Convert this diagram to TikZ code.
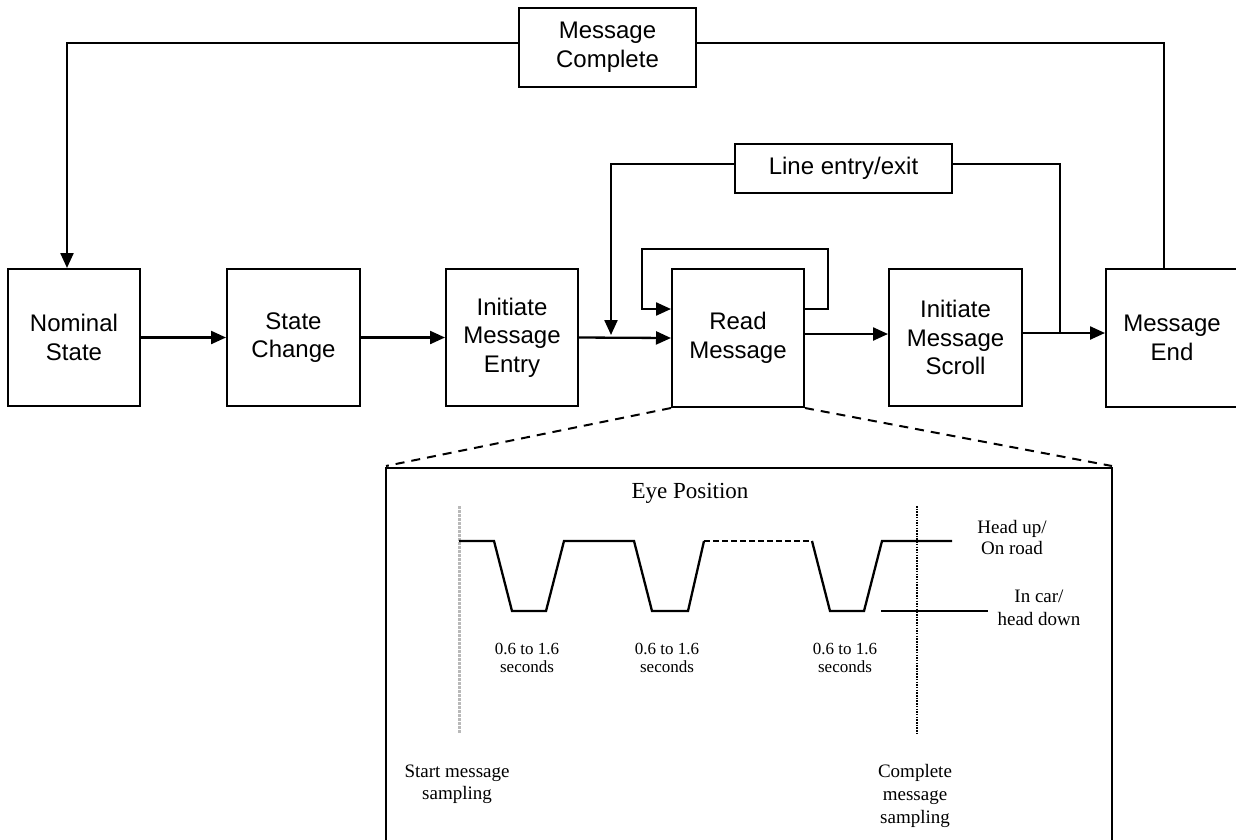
\documentclass[tikz,border=0pt]{standalone}
\usepackage{fontspec}
\setmainfont{Liberation Serif}
\newfontfamily\sansf{Liberation Sans}
\usetikzlibrary{arrows.meta}
\begin{document}
\begin{tikzpicture}[x=1pt,y=-1pt,
  box/.style={draw,line width=2pt,minimum width=132pt,minimum height=137pt,inner sep=0pt,align=center,font=\sansf\fontsize{24}{28.5}\selectfont},
  tag/.style={draw,line width=2pt,inner sep=0pt,align=center,font=\sansf\fontsize{24}{29}\selectfont},
  conn/.style={line width=2.3pt},
  arr/.style={conn,-{Triangle[length=15pt,width=13pt]}},
  wave/.style={line width=2.3pt,line join=miter},
  lbl/.style={align=center,inner sep=0pt},
  durlbl/.style={lbl,font=\fontsize{17}{18}\selectfont},
]
\useasboundingbox (0,0) rectangle (1236,839);
\clip (0,0) rectangle (1236,839);

% main boxes
\node[box] (N) at (74,337.5) {Nominal\\State};
\node[box,minimum width=133pt] (S) at (293.5,337.5) {State\\Change};
\node[box] (E) at (512,337.5) {Initiate\\Message\\Entry};
\node[box,minimum height=138pt] (R) at (738,338) {Read\\Message};
\node[box,minimum width=133pt] (I) at (955.5,337.5) {Initiate\\Message\\Scroll};
\node[box,minimum height=138pt] (M) at (1172,338) {Message\\End};
\node[tag,minimum width=177pt,minimum height=79pt] (C) at (607.5,47.5) {Message\\Complete};
\node[tag,minimum width=217pt,minimum height=49pt] (L) at (843.5,168.5) {Line entry/exit};

% bend coordinates
\coordinate (tl) at (67,43);
\coordinate (tr) at (1164,43);
\coordinate (ll) at (611,164);
\coordinate (lr) at (1060,164);
\coordinate (la) at (611,335);
\coordinate (lb) at (1060,333);

% main flow
\draw[arr] (N) -- (S);
\draw[arr] (S) -- (E);
\draw[arr] (E.east) -- (R.west);
\draw[arr] ([yshift=4pt]R.east) -- ([yshift=4pt]R.east -| I.west);
\draw[arr] ([yshift=4.5pt]I.east) -- ([yshift=4.5pt]I.east -| M.west);

% feedback loops
\draw[arr] (C.west |- tl) -- (tl) -- (tl |- N.north);
\draw[conn] (C.east |- tr) -- (tr) -- (tr |- M.north);
\draw[arr] (L.west |- ll) -- (ll) -- (la);
\draw[conn] (L.east |- lr) -- (lr) -- (lb);
\draw[arr] ([yshift=29pt]R.east) -- ++(23,0) -- ++(0,-60) -| ([xshift=-29pt,yshift=29pt]R.west) -- ([yshift=29pt]R.west);

% zoom panel
\coordinate (pl) at (386,468);
\coordinate (pr) at (1112,468);
\draw[line width=2pt] (386,860) -- (pl) -- (pr) -- (1112,860);
\draw[line width=2pt,dash pattern=on 9pt off 7pt] (R.south west) -- (386,466);
\draw[line width=2pt,dash pattern=on 9pt off 7pt] (R.south east) -- (1112,466);

% sampling markers
\draw[gray!55,line width=3pt,dash pattern=on 3pt off 1pt] (459,506) -- (459,733);
\draw[line width=1.5pt,dash pattern=on 1.5pt off 1.2pt] (917,506) -- (917,733);

% eye position trace
\draw[wave] (459,541) -- (494,541) -- (512,611) -- (546,611) -- (564,541) -- (634,541) -- (652,611) -- (688,611) -- (704,541);
\draw[line width=1.6pt,dash pattern=on 6pt off 3pt] (704,541) -- (812,541);
\draw[wave] (812,541) -- (830,611) -- (864,611) -- (882,541) -- (952,541);
\draw[wave] (881,611) -- (988,611);

% labels
\node[lbl,font=\fontsize{23}{26}\selectfont,anchor=base] (eye) at (690,498) {Eye Position};
\node[durlbl] (d1) at (527,658) {0.6 to 1.6\\seconds};
\node[durlbl] (d2) at (667,658) {0.6 to 1.6\\seconds};
\node[durlbl] (d3) at (845,658) {0.6 to 1.6\\seconds};
\node[lbl,font=\fontsize{19}{21}\selectfont] (hu) at (1012,537) {Head up/\\On road};
\node[lbl,font=\fontsize{19}{23}\selectfont] (hd) at (1039,608) {In car/\\head down};
\node[lbl,font=\fontsize{19}{22}\selectfont] (st) at (457,784) {Start message\\sampling};
\node[lbl,font=\fontsize{19}{23}\selectfont] (cm) at (915,796) {Complete\\message\\sampling};
\end{tikzpicture}
\end{document}
